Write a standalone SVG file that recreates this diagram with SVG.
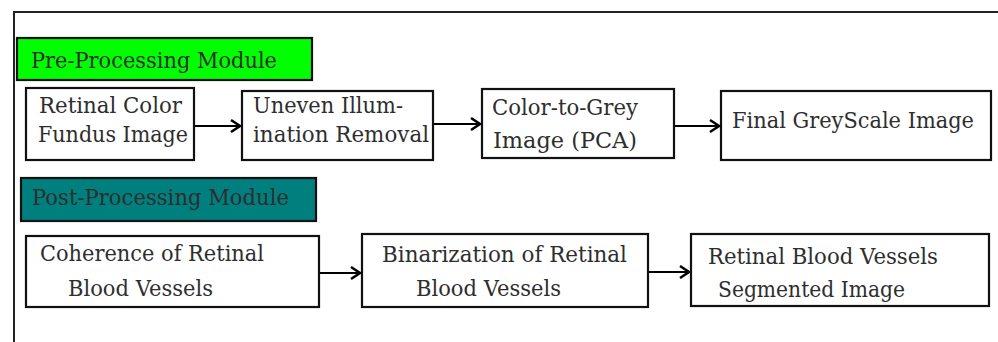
<svg xmlns="http://www.w3.org/2000/svg" width="998" height="342" viewBox="0 0 998 342">
  <style>
    .box { fill: #ffffff; stroke: #111111; stroke-width: 2.2; }
    .hdr { stroke: #111111; stroke-width: 2.2; }
    .lbl { font-family: 'DejaVu Serif', serif; font-size: 21.5px; fill: #2e2e2e; }
    .edge { fill: none; stroke: #000000; stroke-width: 2.2; }
  </style>
  <defs>
    <marker id="tip" markerUnits="userSpaceOnUse" markerWidth="14" markerHeight="16" viewBox="-12 -8 14 16" refX="0" refY="0" orient="auto">
      <path d="M-9,-6 L0,0 L-9,6" fill="none" stroke="#000000" stroke-width="2.5" stroke-linejoin="miter"/>
    </marker>
  </defs>
  <rect width="998" height="342" fill="#ffffff"/>

  <!-- enclosing frame -->
  <path d="M14,342 V12 H998" fill="none" stroke="#222222" stroke-width="2"/>

  <g id="pre-module">
    <rect class="hdr" x="17" y="38" width="295" height="42" fill="#00ff00"/>
    <text class="lbl" x="31" y="68" textLength="246" lengthAdjust="spacingAndGlyphs">Pre-Processing Module</text>
  </g>

  <g id="fundus">
    <rect class="box" x="26" y="88" width="168" height="72"/>
    <text class="lbl" x="39" y="113" textLength="143" lengthAdjust="spacingAndGlyphs">Retinal Color</text>
    <text class="lbl" x="38" y="142" textLength="150" lengthAdjust="spacingAndGlyphs">Fundus Image</text>
  </g>

  <g id="illumination">
    <rect class="box" x="242" y="91" width="191" height="69"/>
    <text class="lbl" x="253" y="113" textLength="150" lengthAdjust="spacingAndGlyphs">Uneven Illum-</text>
    <text class="lbl" x="253" y="142" textLength="176" lengthAdjust="spacingAndGlyphs">ination Removal</text>
  </g>

  <g id="pca">
    <rect class="box" x="482" y="89" width="192" height="69"/>
    <text class="lbl" x="492" y="115" textLength="146" lengthAdjust="spacingAndGlyphs">Color-to-Grey</text>
    <text class="lbl" x="493" y="148" textLength="144" lengthAdjust="spacingAndGlyphs">Image (PCA)</text>
  </g>

  <g id="greyscale">
    <rect class="box" x="721" y="91" width="270" height="69"/>
    <text class="lbl" x="732" y="128" textLength="242" lengthAdjust="spacingAndGlyphs">Final GreyScale Image</text>
  </g>

  <g id="post-module">
    <rect class="hdr" x="21" y="178" width="295" height="43" fill="#007f7f"/>
    <text class="lbl" x="32" y="205" textLength="257" lengthAdjust="spacingAndGlyphs">Post-Processing Module</text>
  </g>

  <g id="coherence">
    <rect class="box" x="26" y="236" width="293" height="71"/>
    <text class="lbl" x="40" y="261" textLength="224" lengthAdjust="spacingAndGlyphs">Coherence of Retinal</text>
    <text class="lbl" x="68" y="296" textLength="145" lengthAdjust="spacingAndGlyphs">Blood Vessels</text>
  </g>

  <g id="binarization">
    <rect class="box" x="362" y="234" width="286" height="73"/>
    <text class="lbl" x="382" y="262" textLength="245" lengthAdjust="spacingAndGlyphs">Binarization of Retinal</text>
    <text class="lbl" x="416" y="296" textLength="145" lengthAdjust="spacingAndGlyphs">Blood Vessels</text>
  </g>

  <g id="segmented">
    <rect class="box" x="691" y="234" width="298" height="72"/>
    <text class="lbl" x="708" y="264" textLength="230" lengthAdjust="spacingAndGlyphs">Retinal Blood Vessels</text>
    <text class="lbl" x="718" y="297" textLength="187" lengthAdjust="spacingAndGlyphs">Segmented Image</text>
  </g>

  <g id="connectors">
    <line class="edge" x1="195" y1="126" x2="240" y2="126" marker-end="url(#tip)"/>
    <line class="edge" x1="434" y1="124" x2="480" y2="124" marker-end="url(#tip)"/>
    <line class="edge" x1="675" y1="126" x2="719" y2="126" marker-end="url(#tip)"/>
    <line class="edge" x1="320" y1="273" x2="360" y2="273" marker-end="url(#tip)"/>
    <line class="edge" x1="649" y1="272" x2="689" y2="272" marker-end="url(#tip)"/>
  </g>
</svg>
